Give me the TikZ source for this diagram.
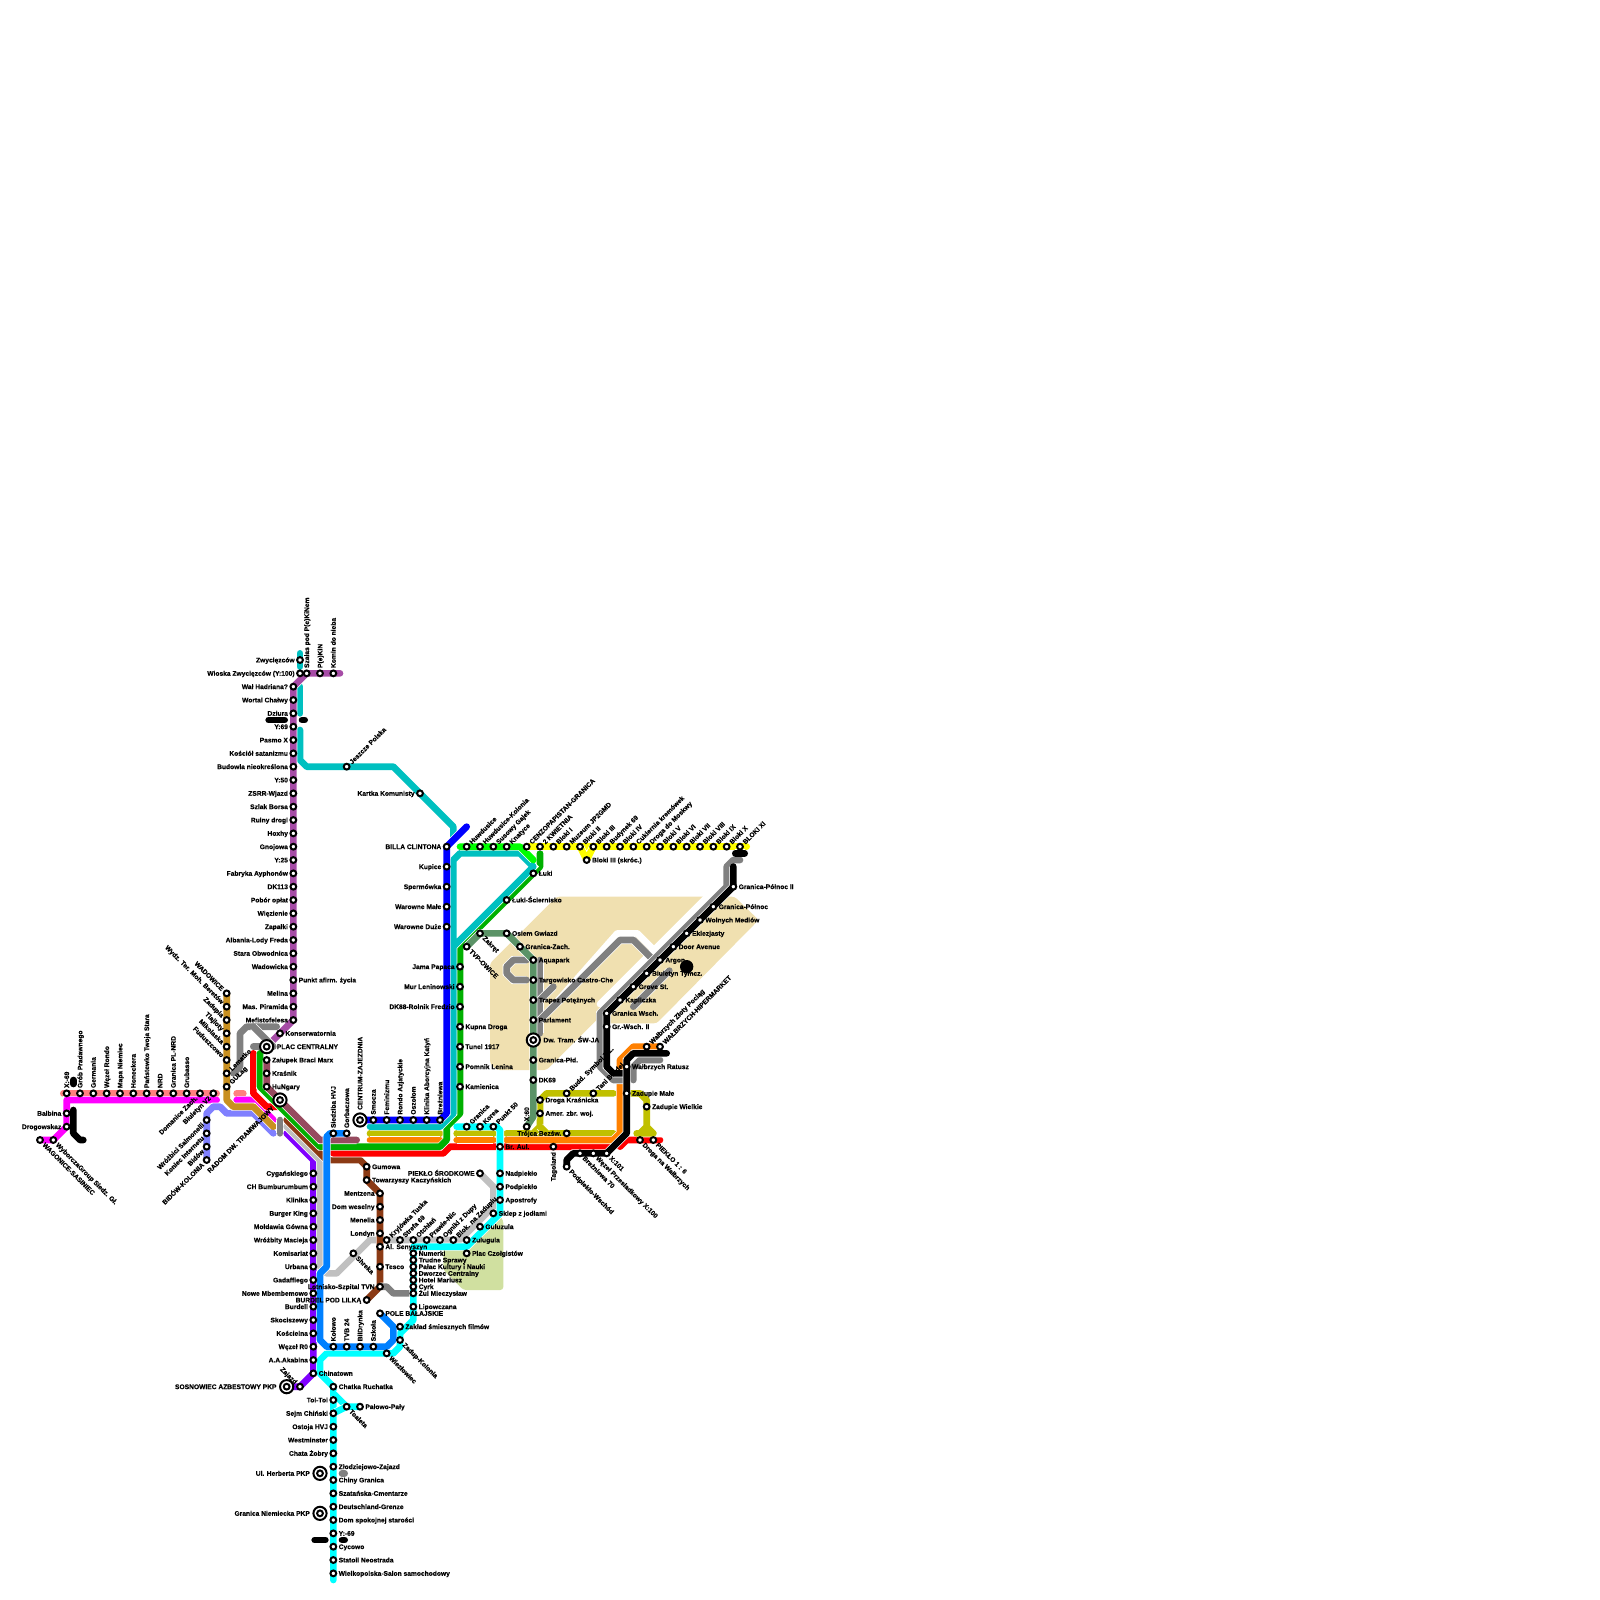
\documentclass[tikz,border=0pt]{standalone}
\usepackage{fontspec}
\setmainfont{Liberation Sans}[BoldFeatures={FakeBold=0.25}]
\pgfdeclarelayer{lines}
\pgfsetlayers{lines,main}
\definecolor{cPurple}{HTML}{A64CA6}
\definecolor{cTeal}{HTML}{00C0C0}
\definecolor{cMaroon}{HTML}{964B5F}
\definecolor{cGreen}{HTML}{00B000}
\definecolor{cLime}{HTML}{00FF00}
\definecolor{cRed}{HTML}{FF0000}
\definecolor{cBrown}{HTML}{8B3A14}
\definecolor{cViolet}{HTML}{8000FF}
\definecolor{cLGray}{HTML}{C0C0C0}
\definecolor{cGray}{HTML}{808080}
\definecolor{cBlue}{HTML}{0080FF}
\definecolor{cDBlue}{HTML}{0000FF}
\definecolor{cCyan}{HTML}{00FFFF}
\definecolor{cMagenta}{HTML}{FF00FF}
\definecolor{cSalmon}{HTML}{FF8080}
\definecolor{cGold}{HTML}{C89020}
\definecolor{cPeri}{HTML}{8080FF}
\definecolor{cOrange}{HTML}{FF8000}
\definecolor{cOlive}{HTML}{C0C000}
\definecolor{cSea}{HTML}{5B9367}
\definecolor{cYellow}{HTML}{FFFF00}
\definecolor{cBeige}{HTML}{F0E0B0}
\definecolor{cLeaf}{HTML}{D0E0A0}
\tikzset{
  x=13.3333pt,y=-13.3333pt,
  L/.style={draw=#1,line width=6.67pt,line cap=round,line join=round,preaction={draw=white,line width=8pt}},
  stn/.style={circle,draw=black,fill=white,line width=2pt,minimum size=5.8pt,inner sep=0pt},
  ringo/.style={circle,draw=black,fill=white,line width=2pt,minimum size=13.2pt,inner sep=0pt},
  lab/.style={inner ysep=0pt,inner xsep=5.2pt,text height=4.8pt,text depth=0pt,font=\fontsize{6.67}{8}\selectfont\bfseries,text=black},
  labl/.style={lab,anchor=east},
  labr/.style={lab,anchor=west},
  labu/.style={lab,anchor=west,rotate=90},
  labd/.style={lab,anchor=east,rotate=90},
  labne/.style={lab,anchor=west,rotate=45},
  labse/.style={lab,anchor=west,rotate=-45},
  labnw/.style={lab,anchor=east,rotate=-45},
  labsw/.style={lab,anchor=east,rotate=45},
}
\newcommand\stn[5]{\node[stn] (#1) at (#2,#3) {}; \node[lab#4] (#1-t) at (#1.center) {#5};}
\newcommand\bigstn[5]{\node[ringo] (#1) at (#2,#3) {}; \node[stn] (#1-in) at (#1.center) {}; \node[lab#4,inner xsep=10pt] (#1-t) at (#1.center) {#5};}
\begin{document}
\begin{tikzpicture}
\useasboundingbox (0,0) rectangle (120,120);
% ---- stations: purple north line
\stn{zwyc}{22.5}{49.5}{l}{Zwycięzców}
\stn{wios}{22.5}{50.5}{l}{Wioska Zwycięzców (Y:100)}
\stn{szal}{23}{50.5}{u}{Szałas pod P(e)KiNem}
\stn{pekin}{24}{50.5}{u}{P(e)KiN}
\stn{komin}{25}{50.5}{u}{Komin do nieba}
\stn{wal}{22}{51.5}{l}{Wał Hadriana?}
\stn{wort}{22}{52.5}{l}{Wortal Chałwy}
\stn{dziu}{22}{53.5}{l}{Dziura}
\stn{y69}{22}{54.5}{l}{Y:69}
\stn{pasm}{22}{55.5}{l}{Pasmo X}
\stn{kosc}{22}{56.5}{l}{Kościół satanizmu}
\stn{budo}{22}{57.5}{l}{Budowla nieokreślona}
\stn{y50}{22}{58.5}{l}{Y:50}
\stn{zsrr}{22}{59.5}{l}{ZSRR-Wjazd}
\stn{szla}{22}{60.5}{l}{Szlak Borsa}
\stn{ruin}{22}{61.5}{l}{Ruiny drogi}
\stn{hoxh}{22}{62.5}{l}{Hoxhy}
\stn{gnoj}{22}{63.5}{l}{Gnojowa}
\stn{y25}{22}{64.5}{l}{Y:25}
\stn{fabr}{22}{65.5}{l}{Fabryka Ayphonów}
\stn{dk113}{22}{66.5}{l}{DK113}
\stn{pobo}{22}{67.5}{l}{Pobór opłat}
\stn{wiez}{22}{68.5}{l}{Więzienie}
\stn{zapa}{22}{69.5}{l}{Zapałki}
\stn{alba}{22}{70.5}{l}{Albania-Lody Freda}
\stn{star}{22}{71.5}{l}{Stara Obwodnica}
\stn{wado}{22}{72.5}{l}{Wadowicka}
\stn{punk}{22}{73.5}{r}{Punkt afirm. życia}
\stn{meli}{22}{74.5}{l}{Melina}
\stn{masp}{22}{75.5}{l}{Mas. Piramida}
\stn{mefi}{22}{76.5}{l}{Mefistofelesa}
\stn{kons}{21}{77.5}{r}{Konserwatornia}
\bigstn{plac}{20}{78.5}{r}{PLAC CENTRALNY}
\stn{zalu}{20}{79.5}{r}{Załupek Braci Marx}
\stn{kras}{20}{80.5}{r}{Kraśnik}
\stn{hung}{20}{81.5}{r}{HuNgary}
\bigstn{radom}{21}{82.5}{sw}{RADOM DW. TRAMWAJOWY}
\stn{jesz}{26}{57.5}{ne}{Jeszcze Polska}
\stn{kart}{31.5}{59.5}{l}{Kartka Komunisty}
% gold
\stn{wadw}{17}{74.5}{nw}{WADOWICE}
\stn{wydz}{17}{75.5}{nw}{Wydz. Ter. Moh. Beretów}
\stn{zadp}{17}{76.5}{nw}{Zadupia}
\stn{tlaj}{17}{77.5}{nw}{Tlajloty}
\stn{miko}{17}{78.5}{nw}{Mikolaska}
\stn{fudu}{17}{79.5}{nw}{Fuduszcowo}
\stn{lema}{17}{80.5}{ne}{Lematko}
\stn{gula}{17}{81.5}{ne}{GUŁag}
% salmon row
\stn{x69}{5}{82}{u}{X:-69}
\stn{grob}{6}{82}{u}{Grób Pradawnego}
\stn{germ}{7}{82}{u}{Germania}
\stn{wron}{8}{82}{u}{Węzeł Rondo}
\stn{mapa}{9}{82}{u}{Mapa Niemiec}
\stn{hone}{10}{82}{u}{Honeckera}
\stn{pans}{11}{82}{u}{Państewko Twoja Stara}
\stn{nrd}{12}{82}{u}{NRD}
\stn{grpl}{13}{82}{u}{Granica PL-NRD}
\stn{grub}{14}{82}{u}{Grubasso}
\stn{doma}{15}{82}{sw}{Domanice Zach.}
\stn{biu}{16}{82}{sw}{Biuletyn V2}
\stn{balb}{5}{83.5}{l}{Balbina}
\stn{drog}{5}{84.5}{l}{Drogowskaz}
\stn{wago}{3}{85.5}{se}{WAGONICE-SASINIEC}
\stn{wybo}{4}{85.5}{se}{WyborczaGroup Siedz. Gł.}
% periwinkle
\stn{wroz}{15.5}{84}{sw}{Wróżbici Salmonelli}
\stn{koni}{15.5}{85}{sw}{Koniec Internetu}
\stn{bido}{15.5}{86}{sw}{Bidów}
\stn{bidk}{15.5}{87}{sw}{BIDÓW-KOLONIA}
% violet
\stn{cyga}{23.5}{88}{l}{Cygańskiego}
\stn{chbu}{23.5}{89}{l}{CH Bumburumbum}
\stn{klin}{23.5}{90}{l}{Klinika}
\stn{burg}{23.5}{91}{l}{Burger King}
\stn{mold}{23.5}{92}{l}{Mołdawia Gówna}
\stn{wrom}{23.5}{93}{l}{Wróżbity Macieja}
\stn{komi}{23.5}{94}{l}{Komisariat}
\stn{urba}{23.5}{95}{l}{Urbana}
\stn{gada}{23.5}{96}{l}{Gadaffiego}
\stn{nowe}{23.5}{97}{l}{Nowe Mbembemowo}
\stn{burd}{23.5}{98}{l}{Burdell}
\stn{skoc}{23.5}{99}{l}{Skociszewy}
\stn{koci}{23.5}{100}{l}{Kościelna}
\stn{wezr}{23.5}{101}{l}{Węzeł R0}
\stn{akab}{23.5}{102}{l}{A.A.Akabina}
\stn{chin}{23.5}{103}{r}{Chinatown}
\stn{zajz}{22.5}{104}{nw}{Zajazd}
\bigstn{sosn}{21.5}{104}{l}{SOSNOWIEC AZBESTOWY PKP}
% blue
\stn{sied}{25}{85}{u}{Siedziba HVJ}
\stn{gorb}{26}{85}{u}{Gorbaczowa}
\stn{kolo}{25}{101}{u}{Kołowo}
\stn{tvb}{26}{101}{u}{TVB 24}
\stn{bild}{27}{101}{u}{BilDrynka}
\stn{szko}{28}{101}{u}{Szkoła}
\stn{pole}{28.5}{98.5}{r}{POLE BAŁAJSKIE}
% dark blue
\bigstn{cent}{27}{84}{u}{CENTRUM-ZAJEZDNIA}
\stn{smoc}{28}{84}{u}{Smocza}
\stn{femi}{29}{84}{u}{Feminizmu}
\stn{rond}{30}{84}{u}{Rondo Azjatyckie}
\stn{oszo}{31}{84}{u}{Oszołom}
\stn{klia}{32}{84}{u}{Klinika Aborcyjna Katyń}
\stn{brez}{33}{84}{u}{Breżniewa}
\stn{bill}{33.5}{63.5}{l}{BILLA CLINTONA}
\stn{kupi}{33.5}{65}{l}{Kupice}
\stn{sper}{33.5}{66.5}{l}{Spermówka}
\stn{warm}{33.5}{68}{l}{Warowne Małe}
\stn{ward}{33.5}{69.5}{l}{Warowne Duże}
% green
\stn{jama}{34.5}{72.5}{l}{Jama Papaca}
\stn{murl}{34.5}{74}{l}{Mur Leninowski}
\stn{dk88}{34.5}{75.5}{l}{DK88-Rolnik Fredzio}
\stn{kupn}{34.5}{77}{r}{Kupna Droga}
\stn{tune}{34.5}{78.5}{r}{Tunel 1917}
\stn{pomn}{34.5}{80}{r}{Pomnik Lenina}
\stn{kami}{34.5}{81.5}{r}{Kamienica}
\stn{luki}{40}{65.5}{r}{Łuki}
\stn{luks}{38}{67.5}{r}{Łuki-Ściernisko}
% top yellow
\stn{huwd}{35}{63.5}{ne}{Huwdusice}
\stn{huwk}{36}{63.5}{ne}{Huwdusice-Kolonia}
\stn{susg}{37}{63.5}{ne}{Susowy Gajek}
\stn{knat}{38}{63.5}{ne}{Knatyce}
\stn{cenz}{39.5}{63.5}{ne}{CENZOPAPISTAN-GRANICA}
\stn{kwie}{40.5}{63.5}{ne}{2 KWIETNIA}
\stn{blk1}{41.5}{63.5}{ne}{Bloki I}
\stn{muze}{42.5}{63.5}{ne}{Muzeum JP2GMD}
\stn{blk2}{43.5}{63.5}{ne}{Bloki II}
\stn{blk3}{44.5}{63.5}{ne}{Bloki III}
\stn{budy}{45.5}{63.5}{ne}{Budynek 69}
\stn{blk4}{46.5}{63.5}{ne}{Bloki IV}
\stn{cuki}{47.5}{63.5}{ne}{Cukiernia kremówek}
\stn{drmo}{48.5}{63.5}{ne}{Droga do Moskwy}
\stn{blk5}{49.5}{63.5}{ne}{Bloki V}
\stn{blk6}{50.5}{63.5}{ne}{Bloki VI}
\stn{blk7}{51.5}{63.5}{ne}{Bloki VII}
\stn{blk8}{52.5}{63.5}{ne}{Bloki VIII}
\stn{blk9}{53.5}{63.5}{ne}{Bloki IX}
\stn{blkx}{54.5}{63.5}{ne}{Bloki X}
\stn{blxi}{55.5}{63.5}{ne}{BLOKI XI}
\stn{blsk}{44}{64.5}{r}{Bloki III (skróc.)}
% sea green
\stn{tvpo}{35}{71}{se}{TVP-OWICE}
\stn{zakr}{36}{70}{se}{Zakręt}
\stn{osie}{38}{70}{r}{Osiem Gwiazd}
\stn{grza}{39}{71}{r}{Granica-Zach.}
\stn{aqua}{40}{72}{r}{Aquapark}
\stn{targ}{40}{73.5}{r}{Targowisko Castro-Che}
\stn{trap}{40}{75}{r}{Trapez Potężnych}
\stn{parl}{40}{76.5}{r}{Parlament}
\bigstn{dwtr}{40}{78}{r}{Dw. Tram. ŚW-JA}
\stn{grpd}{40}{79.5}{r}{Granica-Płd.}
\stn{dk69}{40}{81}{r}{DK69}
\stn{x60}{39.5}{84.5}{u}{X:60}
% black diagonal
\stn{grpn}{55}{66.5}{r}{Granica-Północ II}
\stn{grp1}{53.5}{68}{r}{Granica-Północ}
\stn{woln}{52.5}{69}{r}{Wolnych Mediów}
\stn{ekle}{51.5}{70}{r}{Eklezjasty}
\stn{door}{50.5}{71}{r}{Door Avenue}
\stn{argo}{49.5}{72}{r}{Argon}
\stn{biut}{48.5}{73}{r}{Biuletyn Tymcz.}
\stn{grov}{47.5}{74}{r}{Grove St.}
\stn{kapl}{46.5}{75}{r}{Kapliczka}
\stn{grws}{45.5}{76}{r}{Granica Wsch.}
\stn{grw2}{45.5}{77}{r}{Gr.-Wsch. II}
% olive & orange & right
\stn{drkr}{40.5}{82.5}{r}{Droga Kraśnicka}
\stn{amer}{40.5}{83.5}{r}{Amer. zbr. woj.}
\stn{budd}{42.5}{82}{ne}{Budd. Symbol Z.Z.}
\stn{tani}{44.5}{82}{ne}{Tani Burdel}
\stn{troj}{42.5}{85}{l}{Trójca Bezśw.}
\stn{wrat}{47}{80}{r}{Wałbrzych Ratusz}
\stn{zmal}{47}{82}{r}{Zadupie Małe}
\stn{zwie}{48.5}{83}{r}{Zadupie Wielkie}
\stn{dnaw}{48}{85.5}{se}{Droga na Wałbrzych}
\stn{piek}{49}{85.5}{se}{PIEKŁO 1 : 6}
\stn{wzlo}{48.5}{78.5}{ne}{Wałbrzych Złoty Pociąg}
\stn{whip}{49.5}{78.5}{ne}{WAŁBRZYCH-HIPERMARKET}
\stn{x101}{45.5}{86.5}{se}{X:101}
\stn{wezp}{44.5}{86.5}{se}{Węzeł Przesiadkowy X:100}
\stn{brz7}{43.5}{86.5}{se}{Breżniewa 70}
\stn{pwsc}{42.5}{87.5}{se}{Podpiekło-Wschód}
\stn{tago}{41.5}{86}{d}{Tagoland}
\stn{brau}{37.5}{86}{r}{Br. Aul.}
% cyan mid
\stn{gran}{35}{84.5}{ne}{Granica}
\stn{kore}{36}{84.5}{ne}{Korea}
\stn{p50}{37}{84.5}{ne}{Punkt 50}
\stn{nadp}{37.5}{88}{r}{Nadpiekło}
\stn{podp}{37.5}{89}{r}{Podpiekło}
\stn{apos}{37.5}{90}{r}{Apostrofy}
\stn{skle}{37}{91}{r}{Sklep z jodłami}
\stn{gulu}{36}{92}{r}{Guluzula}
\stn{zulu}{35}{93}{r}{Zulugula}
\stn{plcz}{35}{94}{r}{Plac Czołgistów}
\stn{psro}{36}{88}{l}{PIEKŁO ŚRODKOWE}
\stn{numer}{31}{94}{r}{Numerki}
\stn{trud}{31}{94.5}{r}{Trudne Sprawy}
\stn{pala}{31}{95}{r}{Pałac Kultury i Nauki}
\stn{dwor}{31}{95.5}{r}{Dworzec Centralny}
\stn{hote}{31}{96}{r}{Hotel Mariusz}
\stn{cyrk}{31}{96.5}{r}{Cyrk}
\stn{zulm}{31}{97}{r}{Żul Mieczysław}
\stn{lipo}{31}{98}{r}{Lipowczana}
\stn{zakl}{30}{99.5}{r}{Zakład śmiesznych filmów}
\stn{zkol}{30}{100.5}{se}{Zadup-Kolonia}
\stn{wiel}{29}{101.5}{se}{Wiezłowiec}
% light gray
\stn{kryj}{29}{93}{ne}{Kryjówka Tuska}
\stn{st69}{30}{93}{ne}{Strefa 69}
\stn{otch}{31}{93}{ne}{Otchłań}
\stn{praw}{32}{93}{ne}{Prawie-Nic}
\stn{ogni}{33}{93}{ne}{Ogniki z Dupy}
\stn{blok}{34}{93}{ne}{Blok. na Zadupiu}
\stn{shre}{26.5}{94}{se}{Shreka}
% brown
\stn{gumo}{27.5}{87.5}{r}{Gumowa}
\stn{towa}{27.5}{88.5}{r}{Towarzyszy Kaczyńskich}
\stn{ment}{28.5}{89.5}{l}{Mentzena}
\stn{domw}{28.5}{90.5}{l}{Dom weselny}
\stn{mene}{28.5}{91.5}{l}{Menelia}
\stn{lond}{28.5}{92.5}{l}{Londyn}
\stn{alse}{28.5}{93.5}{r}{Al. Senyszyn}
\stn{tesc}{28.5}{95}{r}{Tesco}
\stn{lotn}{28.5}{96.5}{l}{Lotnisko-Szpital TVN}
\stn{burl}{27.5}{97.5}{l}{BURDEL POD LILKĄ}
% cyan south
\stn{chat}{25}{104}{r}{Chatka Ruchatka}
\stn{toit}{25}{105}{l}{Toi-Toi}
\stn{sejm}{25}{106}{l}{Sejm Chiński}
\stn{osto}{25}{107}{l}{Ostoja HVJ}
\stn{west}{25}{108}{l}{Westminster}
\stn{chaz}{25}{109}{l}{Chata Żobry}
\stn{zlod}{25}{110}{r}{Złodziejowo-Zajazd}
\stn{chgr}{25}{111}{r}{Chiny Granica}
\stn{szat}{25}{112}{r}{Szatańska-Cmentarze}
\stn{deut}{25}{113}{r}{Deutschland-Grenze}
\stn{doms}{25}{114}{r}{Dom spokojnej starości}
\stn{ym69}{25}{115}{r}{Y:-69}
\stn{cyco}{25}{116}{r}{Cycowo}
\stn{stat}{25}{117}{r}{Statoil Neostrada}
\stn{wlkp}{25}{118}{r}{Wielkopolska-Salon samochodowy}
\stn{toal}{26}{105.5}{se}{Toaleta}
\stn{palo}{27}{105.5}{r}{Pałowo-Pały}
\bigstn{herb}{24}{110.5}{l}{Ul. Herberta PKP}
\bigstn{grni}{24}{113.5}{l}{Granica Niemiecka PKP}
% ---------- lines below the stations
\begin{pgfonlayer}{lines}
\fill[cBeige,rounded corners=3pt] (41.75,67.25) -- (55.1,67.25) -- (56.9,69) -- (49.25,76.75) -- (45.5,76.75) -- (45,76.25) -- (41,80.25) -- (37.25,80.25) -- (36.75,79.75) -- (36.75,72.25) -- cycle;
\fill[cLeaf,rounded corners=3pt] (37.5,91.25) -- (37.75,91.5) -- (37.75,96.75) -- (34.75,96.75) -- (33.75,95.75) -- (33.25,95.25) -- (33.25,93.5) -- (35.25,93.5) -- cycle;
\draw[white,line width=6.67pt,line cap=round] (45,75.3) -- (53.5,66.8);
\draw[white,line width=6.67pt,line cap=round,line join=round] (41,76) -- (46.3,70) -- (47.8,70) -- (49.3,71.5);
% north
\draw[L=cTeal] (22.5,49) -- (zwyc.center) -- (22.5,50);
\draw[L=cTeal] (22.5,51.5) -- (22.5,53.5);
\draw[L=cTeal] (22.5,54.75) -- (22.5,57) -- (23,57.5) -- (29.5,57.5) -- (34,62) -- (34,63);
\draw[L=cPurple] (25.5,50.5) -- (szal.center) -- (wal.center) -- (mefi.center) -- (plac.center);
% west fan
\draw[L=cSalmon] (4.75,82) -- (16.25,82);
\draw[L=cSalmon] (17.75,82) -- (18.25,82);
\draw[L=cMagenta] (16.25,82.5) -- (5,82.5) -- (drog.center) -- (wybo.center) -- (wago.center);
\draw[L=cMagenta] (17.75,82.5) -- (19,82.5) -- (20.5,84);
\draw[L=black] (5.5,81) -- (5.5,81.3);
\draw[L=black] (5.5,83.25) -- (5.5,85) -- (6,85.5) -- (6.25,85.5);
\draw[L=cPeri] (bidk.center) -- (15.5,83.5) -- (16,83) -- (16.5,83) -- (17,83.5) -- (19,83.5) -- (20.5,85);
\draw[L=cGold] (wadw.center) -- (17,82.5) -- (17.5,83) -- (19,83) -- (20.5,84.5);
\draw[L=cGray] (17.5,80.5) -- (18,80) -- (18,77.5) -- (18.5,77) -- (20.75,77);
\draw[L=cGray] (19,77) -- (20.5,78.5);
\draw[L=cGray] (19,78.5) -- (plac.center);
\draw[L=cGray] (21,84) -- (21,85);
% the bundle to the centre
\draw[L=cViolet] (21.5,85) -- (23.5,87) -- (23.5,103) -- (zajz.center) -- (sosn.center);
\draw[L=cLGray] (21.5,84.5) -- (24,87) -- (24,95) -- (24.5,95.5) -- (25.25,95.5) -- (27.75,93) -- (34,93);
\draw[L=cLGray] (34,93) -- (34.5,93) -- (37,90.5) -- (37,89) -- (psro.center);
\draw[L=cBrown] (21.5,84) -- (24.5,87) -- (27,87) -- (gumo.center) -- (towa.center) -- (ment.center) -- (lotn.center) -- (burl.center);
\draw[L=cRed] (19,79) -- (19,82) -- (20,83) -- (21.5,83) -- (25,86.5) -- (33.25,86.5) -- (33.75,86) -- (45.75,86);
\draw[L=cRed] (46.5,86) -- (47,85.5) -- (49.5,85.5);
\draw[L=cGray] (lotn.center) -- (29,96.5) -- (29.5,97) -- (zulm.center);
% olive & orange
\draw[L=cOlive] (27.75,85) -- (33,85);
\draw[L=cOlive] (34.25,85) -- (37,85);
\draw[L=cOlive] (38,85) -- (46,85);
\draw[L=cOlive] (40,85) -- (40.5,84.5) -- (drkr.center) -- (41,82) -- (46,82);
\draw[L=cOlive] (40.5,84.5) -- (41,85);
\draw[L=cOlive] (zmal.center) -- (48,82) -- (48.5,82.5) -- (48.5,84.5) -- (48,85) -- (47.75,85) -- (49,85) -- (48.5,84.5);
\draw[L=cOrange] (27.75,85.5) -- (33,85.5);
\draw[L=cOrange] (34.25,85.5) -- (37,85.5);
\draw[L=cOrange] (38,85.5) -- (46,85.5) -- (46.5,85) -- (46.5,79.5) -- (47.5,78.5) -- (whip.center);
% teal + greens
\draw[L=cGreen] (19.5,79) -- (19.5,81.5) -- (24,86) -- (33,86) -- (33.5,85.5) -- (33.5,84.5) -- (34.5,83.5) -- (34.5,71) -- (40.5,65) -- (40.5,64);
\draw[L=cMaroon] (zalu.center) -- (hung.center) -- (24,85.5) -- (26.75,85.5);
\draw[L=cTeal] (27.75,84.5) -- (33,84.5) -- (34,83.5) -- (34,64.5) -- (34.5,64) -- (39,64) -- (40,65) -- (34.5,70.5) -- (34,71);
\draw[L=cDBlue] (35,62) -- (bill.center) -- (33.5,83.5) -- (brez.center) -- (cent.center);
\draw[L=cLime] (34.5,63.5) -- (39,63.5) -- (40,64.5);
\draw[L=cYellow] (cenz.center) -- (56,63.5);
\draw[L=cYellow] (blk2.center) -- (44,64.5) -- (blk3.center);
% sea & grays east
\draw[L=cGray] (40.5,72) -- (40.5,77.5);
\draw[L=cGray] (40.5,75) -- (41.5,74);
\draw[L=cGray] (39.5,72) -- (38.5,72) -- (38,72.5) -- (38,73) -- (38.5,73.5) -- (39.5,73.5);
\draw[L=cGray] (40.5,76.5) -- (46.5,70.5) -- (47.5,70.5) -- (49.25,72.25);
\draw[L=cGray] (47.5,75.5) -- (50.2,72.8);
\draw[L=cSea] (tvpo.center) -- (zakr.center) -- (osie.center) -- (aqua.center) -- (40,83.75) -- (x60.center);
\draw[L=cGray] (55.5,64.5) -- (55,64.5) -- (54.5,65) -- (54.5,66.5) -- (45,76) -- (45,80) -- (46,81) -- (47,81);
\draw[L=cGray] (47.5,81) -- (47.5,80) -- (48,79.5) -- (49.5,79.5);
\draw[L=black] (55,65) -- (grpn.center) -- (grws.center) -- (45.5,80) -- (46,80.5) -- (47,80.5);
\draw[L=black] (50,79) -- (47.5,79) -- (47,79.5) -- (47,85) -- (x101.center) -- (43,86.5) -- (42.5,87) -- (pwsc.center);
\draw[L=black] (55.15,64) -- (55.85,64);
\fill[black] (51.5,72.5) circle (6.67pt);
% blue & cyan
\draw[L=cCyan] (34.25,84.5) -- (p50.center) -- (37.25,84.5) -- (37.5,84.75) -- (37.5,91) -- (35,93.5) -- (31,93.5) -- (lipo.center) -- (31,99) -- (30,100) -- (30,101) -- (29.5,101.5) -- (24.5,101.5) -- (24,102) -- (24,103) -- (chat.center) -- (25,118.5);
\draw[L=cCyan] (25,104.5) -- (toal.center) -- (palo.center);
\draw[L=cCyan] (toal.center) -- (sejm.center);
\draw[L=cBlue] (gorb.center) -- (24.75,85) -- (24.5,85.25) -- (24.5,95) -- (24,95.5) -- (24,100.5) -- (24.5,101) -- (29,101) -- (29.5,100.5) -- (29.5,99.5) -- (pole.center);
% bars
\draw[L=black] (20.15,54) -- (21.35,54);
\draw[L=black] (22.65,54) -- (22.85,54);
\draw[L=black] (23.6,115.5) -- (24.4,115.5);
\draw[L=black] (25.65,115.5) -- (25.85,115.5);
\draw[L=cGray] (25.65,110.5) -- (25.85,110.5);
\end{pgfonlayer}
\end{tikzpicture}
\end{document}
